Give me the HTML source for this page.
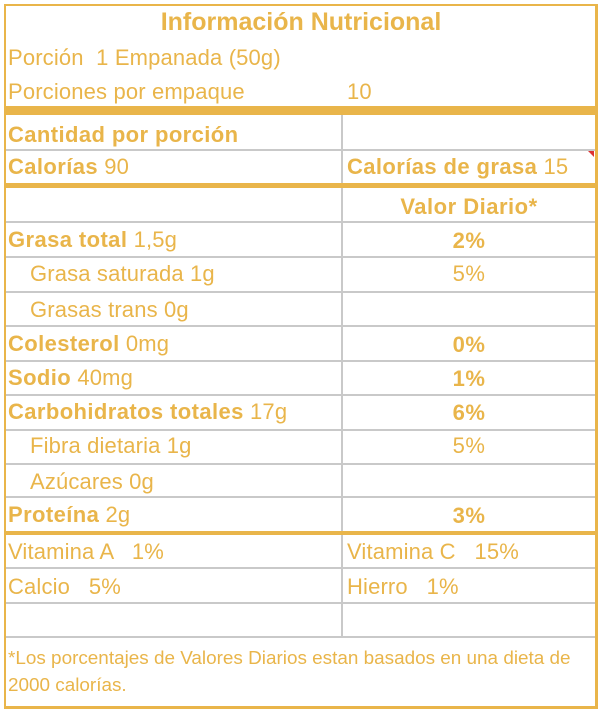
<!DOCTYPE html>
<html><head><meta charset="utf-8"><style>
body{margin:0;width:602px;height:714px;background:#fff;position:relative;overflow:hidden;font-family:"Liberation Sans",sans-serif;color:#e9b54a;}
.b{position:absolute;background:#e9b54a}
.g{position:absolute;background:#c9c9c9}
.t{position:absolute;font-size:22px;line-height:24px;white-space:pre;letter-spacing:0.15px}
.c{position:absolute;font-size:22px;line-height:24px;text-align:center;width:254px;left:342px;font-weight:bold;letter-spacing:0.5px}
b{font-weight:bold;letter-spacing:0.4px}
</style></head><body>
<div class="b" style="left:4px;top:4px;width:594px;height:2px"></div>
<div class="b" style="left:4px;top:706px;width:594px;height:3px"></div>
<div class="b" style="left:4px;top:4px;width:2px;height:705px"></div>
<div class="b" style="left:595px;top:4px;width:3px;height:705px"></div>
<div class="b" style="left:4px;top:106px;width:594px;height:9px"></div>
<div class="b" style="left:4px;top:183px;width:594px;height:5px"></div>
<div class="b" style="left:4px;top:531px;width:594px;height:4px"></div>
<div class="g" style="left:341px;top:115px;width:2px;height:68px"></div>
<div class="g" style="left:341px;top:188px;width:2px;height:343px"></div>
<div class="g" style="left:341px;top:535px;width:2px;height:102px"></div>
<div class="g" style="left:6px;top:149px;width:589px;height:2px"></div>
<div class="g" style="left:6px;top:221px;width:589px;height:2px"></div>
<div class="g" style="left:6px;top:256px;width:589px;height:2px"></div>
<div class="g" style="left:6px;top:291px;width:589px;height:2px"></div>
<div class="g" style="left:6px;top:325px;width:589px;height:2px"></div>
<div class="g" style="left:6px;top:360px;width:589px;height:2px"></div>
<div class="g" style="left:6px;top:394px;width:589px;height:2px"></div>
<div class="g" style="left:6px;top:429px;width:589px;height:2px"></div>
<div class="g" style="left:6px;top:463px;width:589px;height:2px"></div>
<div class="g" style="left:6px;top:496px;width:589px;height:2px"></div>
<div class="g" style="left:6px;top:567px;width:589px;height:2px"></div>
<div class="g" style="left:6px;top:602px;width:589px;height:2px"></div>
<div class="g" style="left:6px;top:636px;width:589px;height:2px"></div>
<div style="position:absolute;left:588px;top:151px;width:0;height:0;border-top:6px solid #d33;border-left:6px solid transparent"></div>

<div class="t" style="left:0;width:602px;text-align:center;top:8px;font-size:25px;line-height:28px;font-weight:bold;letter-spacing:0">Información Nutricional</div>
<div class="t" style="left:8px;top:46px">Porción  1 Empanada (50g)</div>
<div class="t" style="left:8px;top:80px">Porciones por empaque</div>
<div class="t" style="left:347px;top:80px">10</div>
<div class="t" style="left:8px;top:123px"><b>Cantidad por porción</b></div>
<div class="t" style="left:8px;top:155px"><b>Calorías</b> 90</div>
<div class="t" style="left:347px;top:155px"><b>Calorías de grasa</b> 15</div>
<div class="c" style="top:195px">Valor Diario*</div>
<div class="t" style="left:8px;top:228px"><b>Grasa total</b> 1,5g</div>
<div class="c" style="top:229px">2%</div>
<div class="t" style="left:30px;top:262px">Grasa saturada 1g</div>
<div class="c" style="top:262px;font-weight:normal">5%</div>
<div class="t" style="left:30px;top:298px">Grasas trans 0g</div>
<div class="t" style="left:8px;top:332px"><b>Colesterol</b> 0mg</div>
<div class="c" style="top:333px">0%</div>
<div class="t" style="left:8px;top:366px"><b>Sodio</b> 40mg</div>
<div class="c" style="top:367px">1%</div>
<div class="t" style="left:8px;top:400px"><b>Carbohidratos totales</b> 17g</div>
<div class="c" style="top:401px">6%</div>
<div class="t" style="left:30px;top:434px">Fibra dietaria 1g</div>
<div class="c" style="top:434px;font-weight:normal">5%</div>
<div class="t" style="left:30px;top:470px">Azúcares 0g</div>
<div class="t" style="left:8px;top:503px"><b>Proteína</b> 2g</div>
<div class="c" style="top:504px">3%</div>
<div class="t" style="left:8px;top:540px">Vitamina A   1%</div>
<div class="t" style="left:347px;top:540px">Vitamina C   15%</div>
<div class="t" style="left:8px;top:575px">Calcio   5%</div>
<div class="t" style="left:347px;top:575px">Hierro   1%</div>
<div class="t" style="left:8px;top:647px;font-size:18.9px;letter-spacing:0">*Los porcentajes de Valores Diarios estan basados en una dieta de</div>
<div class="t" style="left:8px;top:674px;font-size:18.9px;letter-spacing:0">2000 calorías.</div>
</body></html>
